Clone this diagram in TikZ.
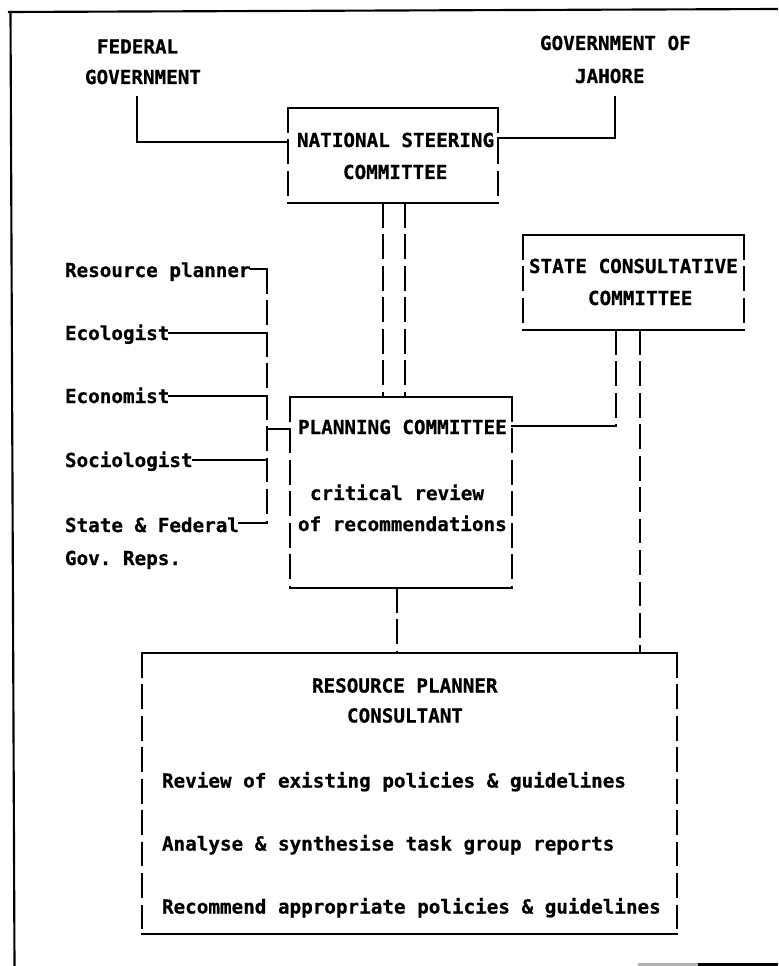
\documentclass[tikz,border=0pt]{standalone}
\usepackage{fontspec}
\setmonofont{DejaVu Sans Mono}[BoldFeatures={FakeBold=0.6}]
\newcommand\twfont{\ttfamily\bfseries\fontsize{14.45pt}{17pt}\selectfont}
\tikzset{
  solidl/.style={line width=1.35pt, line cap=rect},
  dashl/.style={line width=1.35pt, dash pattern=on 18.5pt off 5.1pt},
  framel/.style={line width=1.6pt},
  lbl/.style={inner sep=0pt, outer sep=0pt, anchor=base west, font=\twfont},
  boxn/.style={inner sep=0pt, outer sep=0pt, draw=none},
}
\newcommand\tbox[1]{%
  \draw[solidl] (#1.north west) -- (#1.north east);
  \draw[solidl] (#1.south west) -- (#1.south east);
  \draw[dashl] (#1.north west) -- (#1.south west);
  \draw[dashl] (#1.north east) -- (#1.south east);
}
\begin{document}
\begin{tikzpicture}[x=0.75pt,y=-0.75pt]
\useasboundingbox (0,0) rectangle (778,966);
% outer frame
\draw[framel] (8,12) -- (778,9);
\draw[framel] (10.5,11) -- (14.5,966);
\draw[framel, black!30] (638,964.5) -- (698,964.5);
\draw[framel] (698,964.5) -- (778,964.5);

% boxes
\node[boxn, minimum width=157.5pt, minimum height=71.25pt] (nsc) at (393,155.5) {};
\node[boxn, minimum width=165.75pt, minimum height=71.25pt] (scc) at (633.5,282.5) {};
\node[boxn, minimum width=166.5pt, minimum height=143.25pt] (pc) at (401,492.5) {};
\node[boxn, minimum width=401.25pt, minimum height=210.75pt] (rpc) at (409.5,793.5) {};
\tbox{nsc}
\tbox{scc}
\tbox{pc}
\tbox{rpc}

% texts
\node[lbl] (fed1) at (97,53.5) {FEDERAL};
\node[lbl] (fed2) at (85,84) {GOVERNMENT};
\node[lbl] (joh1) at (540,50) {GOVERNMENT OF};
\node[lbl] (joh2) at (575,83) {JAHORE};
\node[lbl] (nsc1) at (297,147) {NATIONAL STEERING};
\node[lbl] (nsc2) at (343,179) {COMMITTEE};
\node[lbl] (scc1) at (529,273) {STATE CONSULTATIVE};
\node[lbl] (scc2) at (588,305) {COMMITTEE};
\node[lbl] (pc1) at (298,434) {PLANNING COMMITTEE};
\node[lbl] (pc2) at (310,500) {critical review};
\node[lbl] (pc3) at (298,531) {of recommendations};
\node[lbl] (m1) at (65,277) {Resource planner};
\node[lbl] (m2) at (65,340) {Ecologist};
\node[lbl] (m3) at (65,403) {Economist};
\node[lbl] (m4) at (65,467) {Sociologist};
\node[lbl] (m5) at (65,532) {State \& Federal};
\node[lbl] (m5b) at (65,565) {Gov. Reps.};
\node[lbl] (rp1) at (312,692.5) {RESOURCE PLANNER};
\node[lbl] (rp2) at (347,722.5) {CONSULTANT};
\node[lbl] (rp3) at (162,787.5) {Review of existing policies \& guidelines};
\node[lbl] (rp4) at (162,850.5) {Analyse \& synthesise task group reports};
\node[lbl] (rp5) at (162,913.5) {Recommend appropriate policies \& guidelines};

% federal / johore to national steering committee
\coordinate (fedtop) at (137,97);
\draw[solidl] (fedtop) |- (nsc.west |- 0,142);
\coordinate (johtop) at (615,97);
\draw[solidl] (johtop) |- (nsc.east |- 0,138);

% national steering committee to planning committee
\draw[dashl] (nsc.south -| 383,0) -- (pc.north -| 383,0);
\draw[dashl] (nsc.south -| 405,0) -- (pc.north -| 405,0);

% member bus
\coordinate (m1e) at ([yshift=6pt]m1.base east);
\coordinate (m2e) at ([yshift=5.25pt]m2.base east);
\coordinate (m3e) at ([yshift=5.25pt]m3.base east);
\coordinate (m4e) at ([yshift=5.25pt]m4.base east);
\coordinate (m5e) at ([yshift=6.75pt]m5.base east);
\coordinate (bust) at (m1e -| 267,0);
\coordinate (busb) at (m5e -| 267,0);
\draw[solidl] (m1e) -- (bust);
\draw[solidl] (m5e) -- (busb);
\draw[dashl] (bust) -- (busb);
\draw[solidl] (m2e) -- (m2e -| bust);
\draw[solidl] (m3e) -- (m3e -| bust);
\draw[solidl] (m4e) -- (m4e -| bust);
\coordinate (busm) at (bust |- 0,429);
\draw[solidl] (busm) -- (busm -| pc.west);

% state consultative committee
\coordinate (sccc) at (616,426);
\draw[dashl] (scc.south -| sccc) -- (sccc);
\draw[solidl] (sccc) -- (sccc -| pc.east);
\draw[dashl] (scc.south -| 640,0) -- (rpc.north -| 640,0);

% planning committee to resource planner consultant
\draw[dashl] (pc.south -| 397,0) -- (rpc.north -| 397,0);
\end{tikzpicture}
\end{document}
